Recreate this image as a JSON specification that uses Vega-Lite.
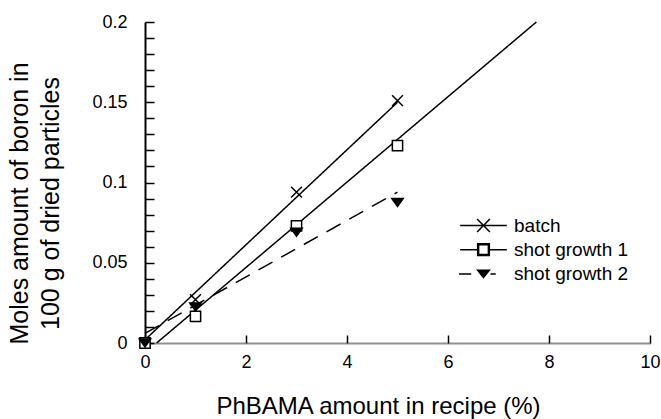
{
  "$schema": "https://vega.github.io/schema/vega-lite/v6.json",
  "width": 505,
  "height": 321,
  "autosize": {"type": "none"},
  "padding": {"left": 145, "top": 22, "right": 11, "bottom": 76},
  "config": {
    "view": {"stroke": null},
    "font": "Liberation Sans"
  },
  "datasets": {
    "points": [
      {"series": "batch", "pct": 0, "boron": 0},
      {"series": "batch", "pct": 1, "boron": 0.027},
      {"series": "batch", "pct": 3, "boron": 0.094},
      {"series": "batch", "pct": 5, "boron": 0.151},
      {"series": "shot growth 1", "pct": 0, "boron": 0},
      {"series": "shot growth 1", "pct": 1, "boron": 0.0166},
      {"series": "shot growth 1", "pct": 3, "boron": 0.073},
      {"series": "shot growth 1", "pct": 5, "boron": 0.123},
      {"series": "shot growth 2", "pct": 0, "boron": 0},
      {"series": "shot growth 2", "pct": 1, "boron": 0.0224},
      {"series": "shot growth 2", "pct": 3, "boron": 0.069},
      {"series": "shot growth 2", "pct": 5, "boron": 0.0875}
    ],
    "fits": [
      {"series": "batch", "pct": 0, "boron": 0.002},
      {"series": "batch", "pct": 5, "boron": 0.150},
      {"series": "shot growth 1", "pct": 0.23, "boron": 0},
      {"series": "shot growth 1", "pct": 7.75, "boron": 0.2},
      {"series": "shot growth 2", "pct": 0, "boron": 0.006},
      {"series": "shot growth 2", "pct": 5, "boron": 0.094}
    ]
  },
  "layer": [
    {
      "data": {"name": "fits"},
      "mark": {"type": "line", "color": "black", "strokeWidth": 1.5},
      "encoding": {
        "x": {
          "field": "pct", "type": "quantitative", "scale": {"domain": [0, 10], "nice": false},
          "axis": {
            "values": [0, 2, 4, 6, 8, 10],
            "format": "d",
            "tickSize": -8, "tickWidth": 1.5, "tickColor": "black",
            "domainColor": "#222", "domainWidth": 2, "domainDash": [1, 1],
            "labelFontSize": 18, "labelPadding": 18, "labelColor": "black",
            "labelFlush": false, "labelOverlap": false,
            "title": "PhBAMA amount in recipe (%)",
            "titleFontSize": 24, "titleFontWeight": "normal", "titleColor": "black",
            "titleX": 233, "titleY": 70, "titleAlign": "center", "titleBaseline": "alphabetic",
            "grid": false
          }
        },
        "y": {
          "field": "boron", "type": "quantitative",
          "scale": {"domain": [0, 0.2], "nice": false},
          "axis": {
            "orient": "left",
            "values": [0, 0.01, 0.02, 0.03, 0.04, 0.05, 0.06, 0.07, 0.08, 0.09, 0.1, 0.11, 0.12, 0.13, 0.14, 0.15, 0.16, 0.17, 0.18, 0.19, 0.2],
            "tickCount": 30,
            "labelExpr": "abs(datum.value * 20 - round(datum.value * 20)) < 0.000001 ? format(datum.value, '.2~f') : ''",
            "tickSize": -9, "tickWidth": 1.5, "tickColor": "black",
            "domainColor": "black", "domainWidth": 2,
            "labelFontSize": 18, "labelPadding": 27, "labelColor": "black",
            "labelFlush": false, "labelOverlap": false,
            "title": ["Moles amount of boron in", "100 g of dried particles"],
            "titleFontSize": 25, "titleFontWeight": "normal", "titleColor": "black",
            "titleX": -118, "titleY": 181, "titleAngle": -90,
            "titleAlign": "center", "titleBaseline": "alphabetic", "titleLineHeight": 31,
            "grid": false,
            "encode": {
              "ticks": {
                "update": {
                  "x2": {"signal": "abs(datum.value * 20 - round(datum.value * 20)) < 0.000001 ? 9 : 5"}
                }
              }
            }
          }
        },
        "detail": {"field": "series", "type": "nominal"},
        "strokeDash": {
          "field": "series", "type": "nominal",
          "scale": {"domain": ["batch", "shot growth 1", "shot growth 2"], "range": [[1, 0], [1, 0], [16, 10]]},
          "legend": null
        }
      }
    },
    {
      "data": {"name": "points"},
      "mark": {"type": "point", "filled": true, "stroke": "black", "strokeWidth": 1.5, "opacity": 1, "size": 130},
      "encoding": {
        "x": {"field": "pct", "type": "quantitative"},
        "y": {"field": "boron", "type": "quantitative"},
        "shape": {
          "field": "series", "type": "nominal",
          "scale": {
            "domain": ["batch", "shot growth 1", "shot growth 2"],
            "range": ["M-0.95,-0.95L0.95,0.95M-0.95,0.95L0.95,-0.95", "M-0.9,-0.9H0.9V0.9H-0.9Z", "M-1,-0.7H1L0,0.7Z"]
          },
          "legend": null
        },
        "fill": {
          "field": "series", "type": "nominal",
          "scale": {"domain": ["batch", "shot growth 1", "shot growth 2"], "range": ["white", "white", "black"]},
          "legend": null
        }
      }
    },
    {
      "data": {"name": "points"},
      "transform": [{"filter": "datum.pct < 0"}],
      "mark": {"type": "point", "filled": true, "color": "black", "stroke": "black", "strokeWidth": 1.3, "opacity": 1, "size": 544},
      "encoding": {
        "x": {"field": "pct", "type": "quantitative"},
        "y": {"field": "boron", "type": "quantitative"},
        "shape": {
          "field": "series", "type": "nominal",
          "scale": {
            "domain": ["batch", "shot growth 1", "shot growth 2"],
            "range": [
              "M-2,0H2M-0.55,-0.55L0.55,0.55M-0.55,0.55L0.55,-0.55",
              "M-2,0H-0.5M0.5,0H2M-0.5,-0.5H0.5V0.5H-0.5ZM-0.42,-0.42V0.42H0.42V-0.42Z",
              "M-2.1,0H-1.05M0.6,0H1.05M-0.5,-0.32H0.5L0,0.32Z"
            ]
          },
          "legend": {
            "orient": "none", "legendX": 326, "legendY": 191,
            "title": null, "padding": 0,
            "labelFontSize": 19, "labelColor": "black", "labelOffset": 18,
            "symbolSize": 544, "rowPadding": 1.2,
            "encode": {
              "symbols": {
                "update": {
                  "fill": {"value": "black"},
                  "stroke": {"value": "black"},
                  "strokeWidth": {"value": 1.3},
                  "opacity": {"value": 1},
                  "size": {"value": 544}
                }
              }
            }
          }
        }
      }
    }
  ],
  "resolve": {"scale": {"shape": "independent"}}
}
